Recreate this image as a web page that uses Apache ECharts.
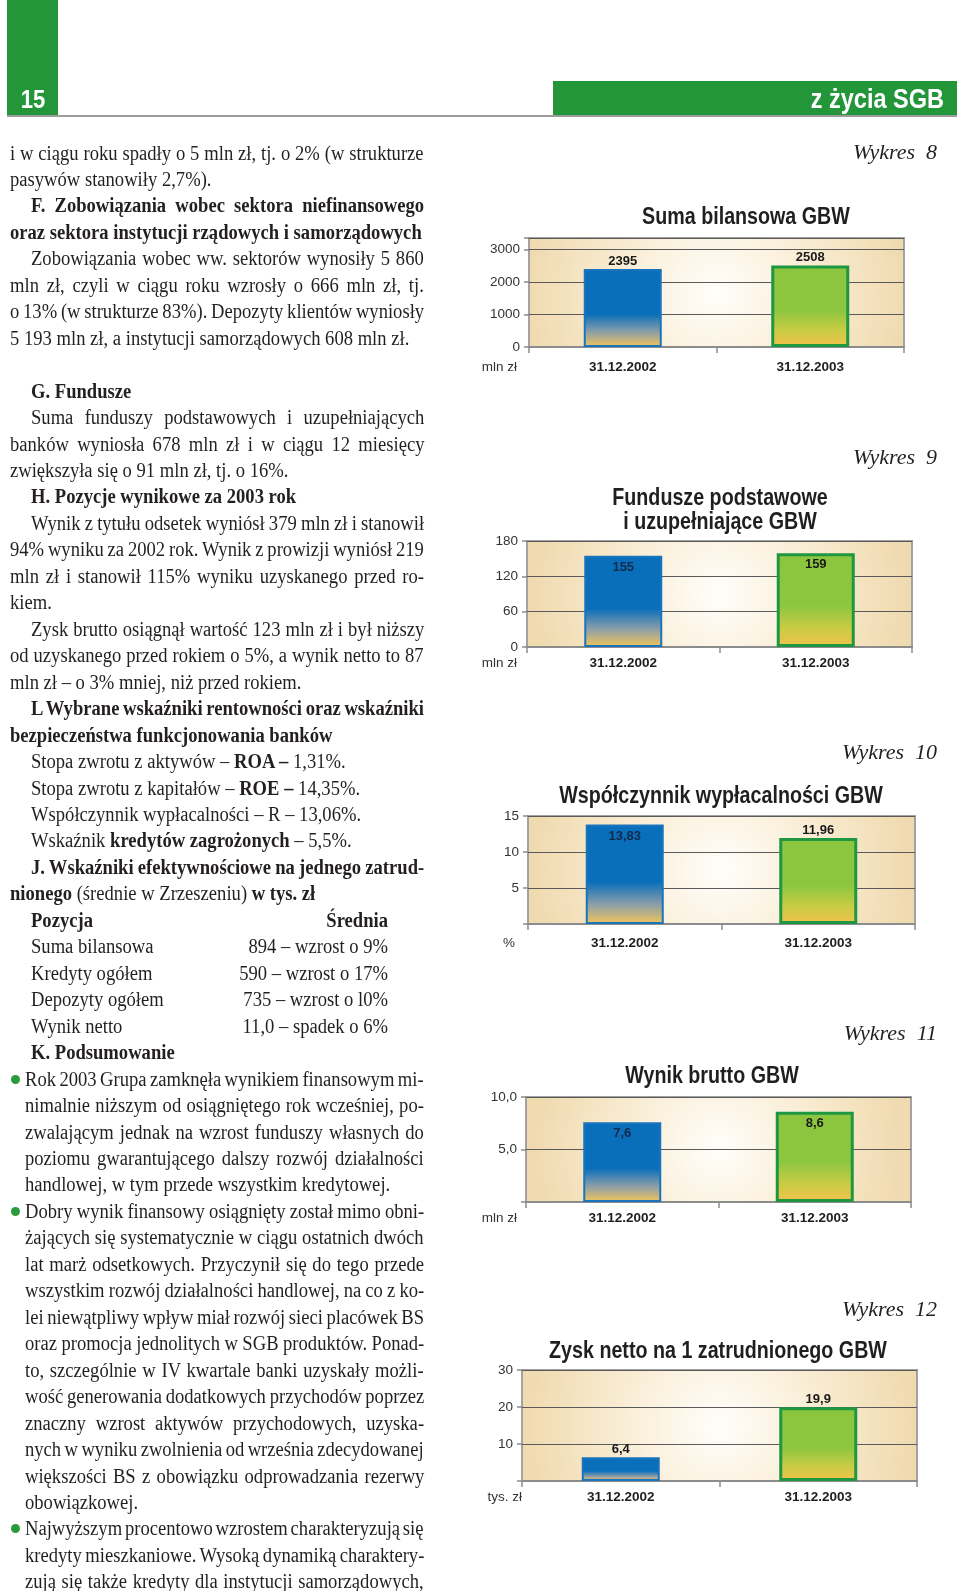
<!DOCTYPE html>
<html lang="pl">
<head>
<meta charset="utf-8">
<title>z życia SGB – Wykresy 8–12</title>
<script src="https://cdn.jsdelivr.net/npm/echarts@6/dist/echarts.min.js"></script>
<style>
  html, body { margin: 0; padding: 0; background: #ffffff; }
  #page { position: relative; width: 960px; height: 1591px; overflow: hidden; }
  #chart { position: absolute; left: 0; top: 0; width: 960px; height: 1591px; }
  #text { position: absolute; left: 0; top: 0; width: 960px; height: 1591px; pointer-events: none; }
  .ln { position: absolute; height: 26px; line-height: 26px; font-family: "Liberation Serif", "Times New Roman", serif;
        font-size: 20px; color: #231f20; white-space: pre; transform-origin: 0 50%; }
  .ln b { font-weight: bold; }
  .dot { position: absolute; width: 9px; height: 9px; border-radius: 50%; background: #2a9a3c; }
</style>
</head>
<body>
<div id="page">
  <div id="chart"></div>
  <div id="text"></div>
</div>
<script>
// ---------------- DATA ----------------
const categories = ['31.12.2002', '31.12.2003'];

const titles = [
  'Suma bilansowa GBW',
  'Fundusze podstawowe\ni uzupełniające GBW',
  'Współczynnik wypłacalności GBW',
  'Wynik brutto GBW',
  'Zysk netto na 1 zatrudnionego GBW'
];
const wykresLabels = ['Wykres  8', 'Wykres  9', 'Wykres  10', 'Wykres  11', 'Wykres  12'];
const units = ['mln zł', 'mln zł', '%', 'mln zł', 'tys. zł'];

const sumaBilansowa = [2395, 2508];
const funduszePodstawowe = [155, 159];
const wspolczynnikWyplacalnosci = [13.83, 11.96];
const wynikBrutto = [7.6, 8.6];
const zyskNettoNaZatrudnionego = [6.4, 19.9];

const ticks1 = [0, 1000, 2000, 3000];
const ticks2 = [0, 60, 120, 180];
const ticks3 = [5, 10, 15];
const ticks4 = [5, 10];
const ticks5 = [10, 20, 30];

const axisMax = [3350, 180, 15, 10, 30];
const axisInterval = [1000, 60, 5, 5, 10];
const valueDecimals = [0, 0, 2, 1, 1];
const tickDecimals = [0, 0, 0, 1, 0];

// ---------------- TEXT (left column) ----------------
// [line index, kind, justified, html, right-column html]
// kind: 0 = full left, 1 = indented, 2 = bullet start, 3 = bullet continuation, 4 = table row
const bodyLines = [
  [0, 0, 1, 'i w ciągu roku spadły o 5 mln zł, tj. o 2% (w strukturze'],
  [1, 0, 0, 'pasywów stanowiły 2,7%).'],
  [2, 1, 1, '<b>F. Zobowiązania wobec sektora niefinansowego</b>'],
  [3, 0, 0, '<b>oraz sektora instytucji rządowych i samorządowych</b>'],
  [4, 1, 1, 'Zobowiązania wobec ww. sektorów wynosiły 5 860'],
  [5, 0, 1, 'mln zł, czyli w ciągu roku wzrosły o 666 mln zł, tj.'],
  [6, 0, 1, 'o 13% (w strukturze 83%). Depozyty klientów wyniosły'],
  [7, 0, 0, '5 193 mln zł, a instytucji samorządowych 608 mln zł.'],
  [9, 1, 0, '<b>G. Fundusze</b>'],
  [10, 1, 1, 'Suma funduszy podstawowych i uzupełniających'],
  [11, 0, 1, 'banków wyniosła 678 mln zł i w ciągu 12 miesięcy'],
  [12, 0, 0, 'zwiększyła się o 91 mln zł, tj. o 16%.'],
  [13, 1, 0, '<b>H. Pozycje wynikowe za 2003 rok</b>'],
  [14, 1, 1, 'Wynik z tytułu odsetek wyniósł 379 mln zł i stanowił'],
  [15, 0, 1, '94% wyniku za 2002 rok. Wynik z prowizji wyniósł 219'],
  [16, 0, 1, 'mln zł i stanowił 115% wyniku uzyskanego przed ro-'],
  [17, 0, 0, 'kiem.'],
  [18, 1, 1, 'Zysk brutto osiągnął wartość 123 mln zł i był niższy'],
  [19, 0, 1, 'od uzyskanego przed rokiem o 5%, a wynik netto to 87'],
  [20, 0, 0, 'mln zł – o 3% mniej, niż przed rokiem.'],
  [21, 1, 1, '<b>L Wybrane wskaźniki rentowności oraz wskaźniki</b>'],
  [22, 0, 0, '<b>bezpieczeństwa funkcjonowania banków</b>'],
  [23, 1, 0, 'Stopa zwrotu z aktywów – <b>ROA –</b> 1,31%.'],
  [24, 1, 0, 'Stopa zwrotu z kapitałów – <b>ROE –</b> 14,35%.'],
  [25, 1, 0, 'Współczynnik wypłacalności – R – 13,06%.'],
  [26, 1, 0, 'Wskaźnik <b>kredytów zagrożonych</b> – 5,5%.'],
  [27, 1, 1, '<b>J. Wskaźniki efektywnościowe na jednego zatrud-</b>'],
  [28, 0, 0, '<b>nionego</b> (średnie w Zrzeszeniu) <b>w tys. zł</b>'],
  [29, 4, 0, '<b>Pozycja</b>', '<b>Średnia</b>'],
  [30, 4, 0, 'Suma bilansowa', '894 – wzrost o 9%'],
  [31, 4, 0, 'Kredyty ogółem', '590 – wzrost o 17%'],
  [32, 4, 0, 'Depozyty ogółem', '735 – wzrost o l0%'],
  [33, 4, 0, 'Wynik netto', '11,0 – spadek o 6%'],
  [34, 1, 0, '<b>K. Podsumowanie</b>'],
  [35, 2, 1, 'Rok 2003 Grupa zamknęła wynikiem finansowym mi-'],
  [36, 3, 1, 'nimalnie niższym od osiągniętego rok wcześniej, po-'],
  [37, 3, 1, 'zwalającym jednak na wzrost funduszy własnych do'],
  [38, 3, 1, 'poziomu gwarantującego dalszy rozwój działalności'],
  [39, 3, 0, 'handlowej, w tym przede wszystkim kredytowej.'],
  [40, 2, 1, 'Dobry wynik finansowy osiągnięty został mimo obni-'],
  [41, 3, 1, 'żających się systematycznie w ciągu ostatnich dwóch'],
  [42, 3, 1, 'lat marż odsetkowych. Przyczynił się do tego przede'],
  [43, 3, 1, 'wszystkim rozwój działalności handlowej, na co z ko-'],
  [44, 3, 1, 'lei niewątpliwy wpływ miał rozwój sieci placówek BS'],
  [45, 3, 1, 'oraz promocja jednolitych w SGB produktów. Ponad-'],
  [46, 3, 1, 'to, szczególnie w IV kwartale banki uzyskały możli-'],
  [47, 3, 1, 'wość generowania dodatkowych przychodów poprzez'],
  [48, 3, 1, 'znaczny wzrost aktywów przychodowych, uzyska-'],
  [49, 3, 1, 'nych w wyniku zwolnienia od września zdecydowanej'],
  [50, 3, 1, 'większości BS z obowiązku odprowadzania rezerwy'],
  [51, 3, 0, 'obowiązkowej.'],
  [52, 2, 1, 'Najwyższym procentowo wzrostem charakteryzują się'],
  [53, 3, 1, 'kredyty mieszkaniowe. Wysoką dynamiką charaktery-'],
  [54, 3, 1, 'zują się także kredyty dla instytucji samorządowych,']
];

// ---------------- LAYOUT / STYLE ----------------
const GREEN = '#24963a';
const SANS = '"Liberation Sans", Arial, Helvetica, sans-serif';
const SERIF = '"Liberation Serif", "Times New Roman", serif';

const seriesData = [sumaBilansowa, funduszePodstawowe, wspolczynnikWyplacalnosci, wynikBrutto, zyskNettoNaZatrudnionego];
const tickSets = [ticks1, ticks2, ticks3, ticks4, ticks5];

const layout = [
  { left: 529, right: 904, top: 238, bottom: 347, titleX: 746, titleY: [217], wyY: 153, unitPad: 12, margin: 13, pos: ['top', 'top'] },
  { left: 527, right: 912, top: 541, bottom: 647, titleX: 720, titleY: [498, 522], wyY: 458, unitPad: 10, margin: 9, pos: ['insideTop', 'insideTop'] },
  { left: 528, right: 915, top: 816, bottom: 924, titleX: 721, titleY: [796], wyY: 753, unitPad: 13, margin: 12, pos: ['insideTop', 'top'] },
  { left: 526, right: 911, top: 1097, bottom: 1202, titleX: 712, titleY: [1076], wyY: 1034, unitPad: 9, margin: 9, pos: ['insideTop', 'insideTop'] },
  { left: 522, right: 917, top: 1370, bottom: 1481, titleX: 718, titleY: [1351], wyY: 1310, unitPad: 0, margin: 9, pos: ['top', 'top'] }
];

function fmtNum(v, d) { return Number(v).toFixed(d).replace('.', ','); }

const blueGrad = new echarts.graphic.LinearGradient(0, 0, 0, 1, [
  { offset: 0, color: '#0a6fbb' }, { offset: 0.58, color: '#0a6fbb' },
  { offset: 0.8, color: '#8a9ea8' }, { offset: 1, color: '#f2c55a' }
]);
const greenGrad = new echarts.graphic.LinearGradient(0, 0, 0, 1, [
  { offset: 0, color: '#8cc63f' }, { offset: 0.55, color: '#8cc63f' },
  { offset: 0.8, color: '#c9cc44' }, { offset: 1, color: '#f3c24c' }
]);
const barStyles = [
  { color: blueGrad, borderColor: '#1a74bd', borderWidth: 2 },
  { color: greenGrad, borderColor: '#1f9640', borderWidth: 3 }
];
const plotBg = () => new echarts.graphic.RadialGradient(0.5, 0.5, 1.7, [
  { offset: 0, color: '#fffefb' }, { offset: 0.3, color: '#fcf4e4' },
  { offset: 0.75, color: '#f5e4c2' }, { offset: 1, color: '#f0dab0' }
]);

const grids = [], xAxes = [], yAxes = [], series = [], graphics = [];

layout.forEach((L, i) => {
  grids.push({
    left: L.left, top: L.top, width: L.right - L.left, height: L.bottom - L.top,
    show: true, backgroundColor: plotBg(), borderColor: '#a2a2a2', borderWidth: 2,
    containLabel: false, outerBoundsMode: 'none'
  });
  xAxes.push({
    gridIndex: i, type: 'category', data: categories,
    axisLine: { show: true, lineStyle: { color: '#8c8c8c', width: 2 } },
    axisTick: { show: true, length: 6, lineStyle: { color: '#8c8c8c', width: 1.5 } },
    axisLabel: { margin: L.margin, fontFamily: SANS, fontWeight: 'bold', fontSize: 13.5, color: '#1e1e1e' },
    splitLine: { show: false }
  });
  const ticks = tickSets[i];
  yAxes.push({
    gridIndex: i, type: 'value', min: 0, max: axisMax[i], interval: axisInterval[i],
    axisLine: { show: false },
    axisTick: { show: true, length: 5, lineStyle: { color: '#8c8c8c', width: 1.5 } },
    splitLine: { show: true, lineStyle: { color: '#5a5a5a', width: 1 } },
    axisLabel: {
      margin: 9, fontFamily: SANS, fontSize: 13.5, color: '#333333',
      formatter: v => ticks.indexOf(v) >= 0 ? fmtNum(v, tickDecimals[i]) : ''
    },
    name: units[i], nameLocation: 'start', nameGap: L.margin + 7,
    nameTextStyle: { align: 'right', verticalAlign: 'middle', padding: [0, L.unitPad, 0, 0],
      fontFamily: SANS, fontSize: 13.5, color: '#333333' }
  });
  series.push({
    type: 'bar', xAxisIndex: i, yAxisIndex: i, barWidth: 78,
    data: seriesData[i].map((v, j) => ({
      value: v,
      itemStyle: barStyles[j],
      label: { position: L.pos[j], distance: L.pos[j] === 'top' ? 1 : 5,
        color: (L.pos[j] === 'insideTop' && j === 0) ? '#132a4c' : '#1a1a1a' }
    })),
    label: { show: true, fontFamily: SANS, fontWeight: 'bold', fontSize: 13,
      formatter: p => fmtNum(p.value, valueDecimals[i]) },
    silent: true, animation: false
  });
  // chart title (condensed bold look via horizontal scaling)
  const tl = titles[i].split('\n');
  tl.forEach((t, k) => {
    graphics.push({ type: 'text', silent: true, x: L.titleX, y: L.titleY[k], scaleX: 0.82, style: {
      x: 0, y: 0, text: t, fill: '#1f1f1f',
      font: 'bold 24px ' + SANS, align: 'center', verticalAlign: 'middle' } });
  });
  // "Wykres N"
  graphics.push({ type: 'text', silent: true, style: {
    x: 937, y: L.wyY, text: wykresLabels[i], fill: '#231f20',
    font: 'italic 22px ' + SERIF, align: 'right', verticalAlign: 'middle' } });
});

// header
graphics.push(
  { type: 'rect', silent: true, shape: { x: 7, y: 0, width: 51, height: 115 }, style: { fill: GREEN } },
  { type: 'rect', silent: true, shape: { x: 553, y: 81, width: 404, height: 34 }, style: { fill: GREEN } },
  { type: 'line', silent: true, shape: { x1: 7, y1: 116, x2: 957, y2: 116 }, style: { stroke: '#9c9c9c', lineWidth: 2 } },
  { type: 'text', silent: true, x: 33, y: 101, scaleX: 0.85, style: { x: 0, y: 0, text: '15', fill: '#ffffff',
      font: 'bold 26px ' + SANS, align: 'center', verticalAlign: 'middle' } },
  { type: 'text', silent: true, x: 944, y: 100, scaleX: 0.84, style: { x: 0, y: 0, text: 'z życia SGB', fill: '#ffffff',
      font: 'bold 28px ' + SANS, align: 'right', verticalAlign: 'middle' } }
);

const chart = echarts.init(document.getElementById('chart'), null, { renderer: 'canvas' });
chart.setOption({
  animation: false,
  backgroundColor: '#ffffff',
  grid: grids, xAxis: xAxes, yAxis: yAxes, series: series,
  graphic: graphics
});

// ---------------- body text placement ----------------
(function () {
  const host = document.getElementById('text');
  const SX = 0.93, BASE = 159, PITCH = 26.46, RIGHT = 424;
  const xs = { 0: 10, 1: 31, 2: 25, 3: 25, 4: 31 };
  bodyLines.forEach(row => {
    const [idx, kind, just, html, rhtml] = row;
    const baseline = BASE + idx * PITCH;
    const top = baseline - 19.5;
    const x = xs[kind];
    const div = document.createElement('div');
    div.className = 'ln';
    div.style.left = x + 'px';
    div.style.top = top + 'px';
    div.style.transform = 'scaleX(' + SX + ')';
    if (kind === 4) {
      div.style.width = ((388 - x) / SX) + 'px';
      div.style.display = 'flex';
      div.style.justifyContent = 'space-between';
      div.innerHTML = '<span>' + html + '</span><span>' + rhtml + '</span>';
      host.appendChild(div);
      return;
    }
    const span = document.createElement('span');
    span.innerHTML = html;
    div.appendChild(span);
    host.appendChild(div);
    if (just) {
      const target = (RIGHT - x) / SX;
      const natural = span.offsetWidth;
      const spaces = (span.textContent.match(/ /g) || []).length;
      if (spaces > 0) span.style.wordSpacing = ((target - natural) / spaces) + 'px';
    }
    if (kind === 2) {
      const dot = document.createElement('div');
      dot.className = 'dot';
      dot.style.left = '11px';
      dot.style.top = (baseline - 10.5) + 'px';
      host.appendChild(dot);
    }
  });
})();
</script>
</body>
</html>
